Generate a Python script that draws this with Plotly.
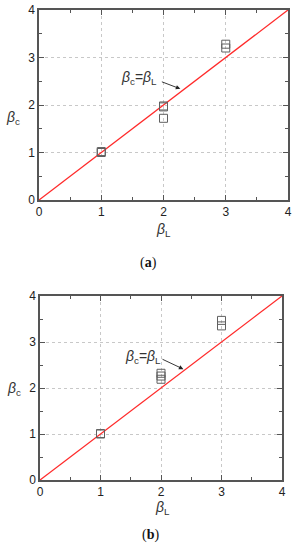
import plotly.graph_objects as go

# Panel (a) data
a_x = [1, 1, 2, 2, 2, 3, 3]
a_y = [1.00, 1.02, 1.98, 1.96, 1.72, 3.28, 3.20]
# Panel (b) data
b_x = [1, 1, 2, 2, 2, 3, 3]
b_y = [1.00, 1.01, 2.32, 2.26, 2.19, 3.47, 3.35]
# Reference line
line_x = [0, 4]
line_y = [0, 4]
tick_vals = [0, 1, 2, 3, 4]

W, H = 297, 550
fig = go.Figure()

mk = dict(symbol="square-open", size=8, color="#606060", line=dict(width=1, color="#606060"))
red = dict(color="#ff2a2a", width=1.3)

fig.add_trace(go.Scatter(x=line_x, y=line_y, mode="lines", line=red, xaxis="x", yaxis="y", showlegend=False))
fig.add_trace(go.Scatter(x=a_x, y=a_y, mode="markers", marker=mk, xaxis="x", yaxis="y", showlegend=False, cliponaxis=False))
fig.add_trace(go.Scatter(x=line_x, y=line_y, mode="lines", line=red, xaxis="x2", yaxis="y2", showlegend=False))
fig.add_trace(go.Scatter(x=b_x, y=b_y, mode="markers", marker=mk, xaxis="x2", yaxis="y2", showlegend=False, cliponaxis=False))

def ax_style(dom, anchor):
    return dict(
        domain=dom, anchor=anchor, range=[0, 4], tickvals=tick_vals,
        showline=True, linecolor="#555555", linewidth=1.5, mirror="ticks",
        ticks="inside", ticklen=5, tickwidth=1.2, tickcolor="#555555",
        minor=dict(ticks="inside", dtick=0.5, ticklen=3, tickcolor="#555555", tickwidth=1.2, showgrid=False),
        showgrid=True, gridcolor="#c8c8c8", griddash="dot", gridwidth=1,
        zeroline=False, tickfont=dict(family="Liberation Sans, Arial", size=12, color="#222222"),
        fixedrange=True, automargin=False,
    )

def px_x(p):
    return p / W

def px_y(p):
    return 1 - p / H

fig.update_layout(
    width=W, height=H, margin=dict(l=0, r=0, t=0, b=0, autoexpand=False),
    plot_bgcolor="white", paper_bgcolor="white",
    xaxis=ax_style([px_x(39), px_x(288)], "y"),
    yaxis=ax_style([px_y(200), px_y(10)], "x"),
    xaxis2=ax_style([px_x(40), px_x(282)], "y2"),
    yaxis2=ax_style([px_y(480), px_y(296)], "x2"),
)

lab_font = dict(family="Liberation Sans, Arial", size=14, color="#333333")
beta_c = "<i>β</i><sub>c</sub>"
beta_L = "<i>β</i><sub>L</sub>"
C = dict(xanchor="center", yanchor="middle", showarrow=False, xref="paper", yref="paper")
ann = []
# axis titles
ann.append(dict(text=beta_c, x=px_x(13), y=px_y(118), font=lab_font, **C))
ann.append(dict(text=beta_L, x=px_x(163), y=px_y(230), font=lab_font, **C))
ann.append(dict(text=beta_c, x=px_x(14), y=px_y(389), font=lab_font, **C))
ann.append(dict(text=beta_L, x=px_x(162), y=px_y(508), font=lab_font, **C))
# panel labels
pf = dict(family="Liberation Serif, Times New Roman", size=14, color="#111111")
ann.append(dict(text="(<b>a</b>)", x=px_x(148), y=px_y(263), font=pf, **C))
ann.append(dict(text="(<b>b</b>)", x=px_x(150), y=px_y(535), font=pf, **C))
# line labels
eq = "<i>β</i><sub>c</sub>=<i>β</i><sub>L</sub>"
ann.append(dict(text=eq, x=1.61, y=2.56, xref="x", yref="y", showarrow=False, font=lab_font, xanchor="center", yanchor="middle"))
ann.append(dict(text="", x=2.27, y=2.34, ax=1.95, ay=2.5, xref="x", yref="y", axref="x", ayref="y",
                showarrow=True, arrowhead=2, arrowsize=1, arrowwidth=0.9, arrowcolor="#222222"))
ann.append(dict(text=eq, x=1.70, y=2.67, xref="x2", yref="y2", showarrow=False, font=lab_font, xanchor="center", yanchor="middle"))
ann.append(dict(text="", x=2.37, y=2.41, ax=2.0, ay=2.64, xref="x2", yref="y2", axref="x2", ayref="y2",
                showarrow=True, arrowhead=2, arrowsize=1, arrowwidth=0.9, arrowcolor="#222222"))
fig.update_layout(annotations=ann)

fig.write_html("out.html", config={"displayModeBar": False},
               post_script="document.body.style.margin='0';document.body.style.overflow='hidden';")
